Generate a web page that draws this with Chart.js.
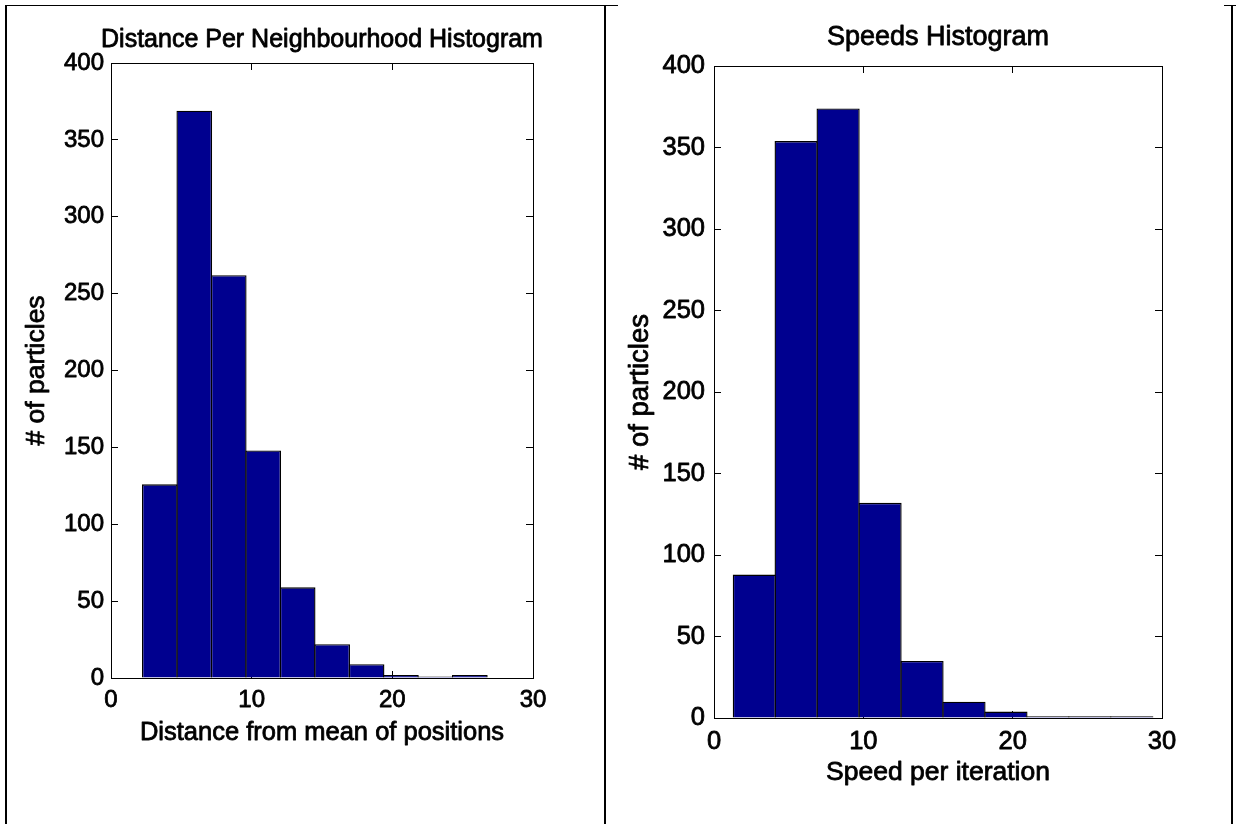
<!DOCTYPE html>
<html>
<head>
<meta charset="utf-8">
<script src="https://cdn.jsdelivr.net/npm/chart.js@4.4.1/dist/chart.umd.min.js"></script>
<style>
  html, body { margin: 0; padding: 0; background: #fff; }
  #page { position: relative; width: 1236px; height: 824px; overflow: hidden; background: #fff; }
  canvas { position: absolute; top: 0; }
  #distChart { left: 0; }
  #speedChart { left: 604px; }
  .rule { position: absolute; background: #000; }
</style>
</head>
<body>
<div id="page">
  <canvas id="distChart" width="644" height="824"></canvas>
  <canvas id="speedChart" width="632" height="824"></canvas>
  <!-- panel frame -->
  <div class="rule" style="left:5px;top:5px;width:2px;height:819px"></div>
  <div class="rule" style="left:5px;top:5px;width:599px;height:1px"></div>
  <div class="rule" style="left:604px;top:5px;width:2px;height:819px"></div>
  <div class="rule" style="left:604px;top:5px;width:14px;height:1px"></div>
  <div class="rule" style="left:1224px;top:5px;width:12px;height:1px"></div>
  <div class="rule" style="left:1231px;top:5px;width:2px;height:819px"></div>
</div>
<script>
// Bin centres and particle counts for each histogram (1000 particles each)
const distanceBins   = [3.47, 5.92, 8.37, 10.82, 13.27, 15.72, 18.17, 20.61, 23.06, 25.51];
const distanceCounts = [126, 369, 262, 148, 59, 22, 9, 2, 1, 2];
const speedBins      = [2.70, 5.50, 8.31, 11.12, 13.93, 16.74, 19.55, 22.36, 25.17, 27.98];
const speedCounts    = [88, 354, 374, 132, 35, 10, 4, 1, 1, 1];

// Axis tick values
const xTickValues = [0, 10, 20, 30];
const yTickValues = [0, 50, 100, 150, 200, 250, 300, 350, 400];

const FONT = "'Liberation Sans', Arial, Helvetica, sans-serif";
Chart.defaults.font.family = FONT;
Chart.defaults.font.weight = 'normal';
Chart.defaults.color = '#000';

// Gives every piece of text a thin outline in its own colour, for a heavier print-like weight
const heavyText = {
  id: 'heavyText',
  beforeInit(chart) {
    const ctx = chart.ctx;
    const fill = ctx.fillText.bind(ctx);
    ctx.fillText = function (text, x, y, maxWidth) {
      ctx.save();
      ctx.lineWidth = 0.8;
      ctx.lineJoin = 'round';
      ctx.strokeStyle = ctx.fillStyle;
      if (maxWidth === undefined) ctx.strokeText(text, x, y); else ctx.strokeText(text, x, y, maxWidth);
      ctx.restore();
      if (maxWidth === undefined) fill(text, x, y); else fill(text, x, y, maxWidth);
    };
  }
};

function histogram(id, o) {
  const setTicks = vals => s => { s.ticks = vals.map(v => ({ value: v })); };
  const fixW = w => s => { s.width = w; };
  const fixH = h => s => { s.height = h; };
  // inward tick marks, no grid lines across the plot
  const marks = () => ({
    drawOnChartArea: false, drawTicks: true, tickLength: -7, offset: false,
    color: '#000', tickColor: '#000', lineWidth: 1, tickWidth: 1
  });
  const frame = () => ({ display: true, color: '#000', width: 1 });
  const f = size => ({ size, lineHeight: 1.2, weight: 'normal' });

  return new Chart(document.getElementById(id), {
    type: 'bar',
    plugins: [heavyText],
    data: {
      datasets: [{
        data: o.centres.map((x, i) => ({ x, y: o.counts[i] })),
        backgroundColor: '#00008f',
        borderColor: '#000',
        borderWidth: 1.4,
        barPercentage: o.barPct,
        categoryPercentage: 1,
        inflateAmount: 0
      }]
    },
    options: {
      responsive: false,
      animation: false,
      devicePixelRatio: 1,
      layout: { padding: { left: 0, top: 0, right: o.padRight, bottom: 0 } },
      plugins: {
        legend: { display: false },
        tooltip: { enabled: false },
        title: {
          display: true, fullSize: o.titleFull, text: o.title, color: '#000', font: f(o.titleSize),
          padding: { top: o.titleTop, bottom: o.titleBottom }
        }
      },
      scales: {
        x: {
          type: 'linear', position: 'bottom', min: 0, max: 30, offset: false, z: 1,
          afterBuildTicks: setTicks(xTickValues), afterFit: fixH(o.xH),
          grid: marks(), border: frame(),
          ticks: { color: '#000', font: f(o.tickSize), padding: o.xTickPad, maxRotation: 0, autoSkip: false },
          title: { display: true, text: o.xLabel, color: '#000', font: f(o.xLabelSize), padding: { top: 0, bottom: o.xTitleBottom } }
        },
        x2: {
          type: 'linear', position: 'top', min: 0, max: 30, offset: false,
          afterBuildTicks: setTicks(xTickValues), afterFit: fixH(0),
          grid: marks(), border: frame(), ticks: { display: false }
        },
        y: {
          type: 'linear', position: 'left', min: 0, max: 400,
          afterBuildTicks: setTicks(yTickValues), afterFit: fixW(o.yW),
          grid: marks(), border: frame(),
          ticks: { color: '#000', font: f(o.tickSize), padding: o.yTickPad, autoSkip: false },
          title: { display: true, text: '# of particles', color: '#000', font: f(o.yLabelSize), padding: { top: o.yTitleTop, bottom: 0 } }
        },
        y2: {
          type: 'linear', position: 'right', min: 0, max: 400,
          afterBuildTicks: setTicks(yTickValues), afterFit: fixW(o.y2W),
          grid: marks(), border: frame(), ticks: { display: false }
        }
      }
    }
  });
}

histogram('distChart', {
  centres: distanceBins, counts: distanceCounts, barPct: 1.04,
  title: 'Distance Per Neighbourhood Histogram', titleFull: true,
  xLabel: 'Distance from mean of positions',
  titleSize: 25, xLabelSize: 25.5, yLabelSize: 26.5, tickSize: 24,
  padRight: 0, y2W: 111, yW: 111, xH: 146,
  titleTop: 24.7, titleBottom: 8.3,
  yTitleTop: 21.1, yTickPad: 14, xTickPad: 15.1, xTitleBottom: 75.7
});

histogram('speedChart', {
  centres: speedBins, counts: speedCounts, barPct: 1.033,
  title: 'Speeds Histogram', titleFull: false,
  xLabel: 'Speed per iteration',
  titleSize: 27, xLabelSize: 26.5, yLabelSize: 27.5, tickSize: 25.5,
  padRight: 74, y2W: 0, yW: 110, xH: 106,
  titleTop: 21.3, titleBottom: 12.3,
  yTitleTop: 19.5, yTickPad: 16, xTickPad: 15.4, xTitleBottom: 35.1
});
</script>
</body>
</html>
